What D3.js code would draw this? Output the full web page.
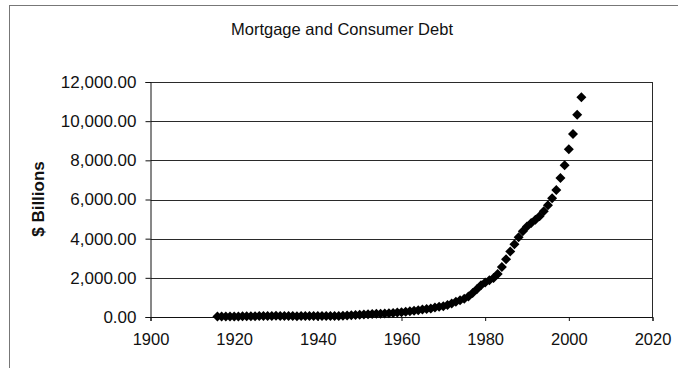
<!DOCTYPE html>
<html>
<head>
<meta charset="utf-8">
<script src="https://cdn.jsdelivr.net/npm/d3@7"></script>
<style>
  html, body { margin: 0; padding: 0; background: #fff; }
  svg { display: block; }
  text { font-family: "Liberation Sans", Arial, sans-serif; fill: #111; }
</style>
</head>
<body>
<svg id="chart" width="678" height="368"></svg>
<script>
// Household mortgage + consumer debt, $ billions, one point per year
const years = d3.range(1916, 2004);
const debt = [
  20, 22, 23, 25, 28, 30, 32, 35, 38, 42,          // 1916-1925
  46, 50, 54, 57, 58, 56, 52, 47, 45, 44,          // 1926-1935
  45, 47, 48, 50, 54, 57, 52, 50, 50, 53,          // 1936-1945
  64, 78, 92, 104, 118, 128, 138, 150, 160, 172,   // 1946-1955
  182, 194, 208, 228, 245, 265, 290, 320, 350, 385, // 1956-1965
  410, 440, 480, 520, 555, 610, 690, 780, 850, 930, // 1966-1975
  1050, 1220, 1420, 1620, 1760, 1880, 1990, 2200, 2550, 2950, // 1976-1985
  3350, 3720, 4070, 4380, 4620, 4800, 4960, 5150, 5400, 5700, // 1986-1995
  6060, 6480, 7100, 7750, 8560, 9350, 10330, 11220  // 1996-2003
];
const xTicks = [1900, 1920, 1940, 1960, 1980, 2000, 2020];
const yTicks = [0, 2000, 4000, 6000, 8000, 10000, 12000];
const chartTitle = "Mortgage and Consumer Debt";
const yTitle = "$ Billions";

const svg = d3.select("#chart");

// outer chart frame
svg.append("rect")
  .attr("x", 9.5).attr("y", 5.5)
  .attr("width", 700).attr("height", 400)
  .attr("fill", "none").attr("stroke", "#777").attr("stroke-width", 1);

const plot = { left: 150.5, right: 652.5, top: 82, bottom: 317 };

const x = d3.scaleLinear().domain([1900, 2020]).range([plot.left, plot.right]);
const y = d3.scaleLinear().domain([0, 12000]).range([plot.bottom, plot.top]);

// horizontal gridlines
svg.append("g")
  .selectAll("line")
  .data(yTicks.filter(v => v > 0))
  .join("line")
  .attr("x1", plot.left).attr("x2", plot.right)
  .attr("y1", d => Math.round(y(d)) + 0.5).attr("y2", d => Math.round(y(d)) + 0.5)
  .attr("stroke", "#2a2a2a").attr("stroke-width", 1);

// right edge of plot area
svg.append("line")
  .attr("x1", plot.right).attr("x2", plot.right)
  .attr("y1", y(12000)).attr("y2", y(0))
  .attr("stroke", "#2a2a2a").attr("stroke-width", 1);

// y axis
const yAxis = d3.axisLeft(y)
  .tickValues(yTicks)
  .tickSize(5)
  .tickPadding(9)
  .tickFormat(d3.format(",.2f"));
const gy = svg.append("g")
  .attr("transform", `translate(${plot.left},0)`)
  .call(yAxis);
gy.select(".domain").attr("stroke", "#111");
gy.selectAll(".tick line").attr("stroke", "#111");
gy.selectAll(".tick text")
  .attr("font-size", 17)
  .attr("font-family", "Liberation Sans, Arial, sans-serif")
  .attr("fill", "#111");

// x axis
const xAxis = d3.axisBottom(x)
  .tickValues(xTicks)
  .tickSize(4)
  .tickPadding(12)
  .tickFormat(d3.format("d"));
const gx = svg.append("g")
  .attr("transform", `translate(0,${plot.bottom})`)
  .call(xAxis);
gx.select(".domain").attr("stroke", "#111");
gx.selectAll(".tick line").attr("stroke", "#111");
gx.selectAll(".tick text")
  .attr("font-size", 16.5)
  .attr("font-family", "Liberation Sans, Arial, sans-serif")
  .attr("fill", "#111");

// data points: black diamonds
const diamond = d3.symbol().type(d3.symbolSquare).size(50);
svg.append("g")
  .selectAll("path")
  .data(years.map((yr, i) => ({ year: yr, value: debt[i] })))
  .join("path")
  .attr("d", diamond)
  .attr("transform", d => `translate(${x(d.year)},${y(d.value)}) rotate(45)`)
  .attr("fill", "#000");

// title
svg.append("text")
  .attr("x", 342).attr("y", 35)
  .attr("text-anchor", "middle")
  .attr("font-size", 16.5)
  .text(chartTitle);

// y axis title
svg.append("text")
  .attr("transform", "translate(44,199) rotate(-90)")
  .attr("text-anchor", "middle")
  .attr("font-size", 17)
  .attr("font-weight", "bold")
  .text(yTitle);
</script>
</body>
</html>
